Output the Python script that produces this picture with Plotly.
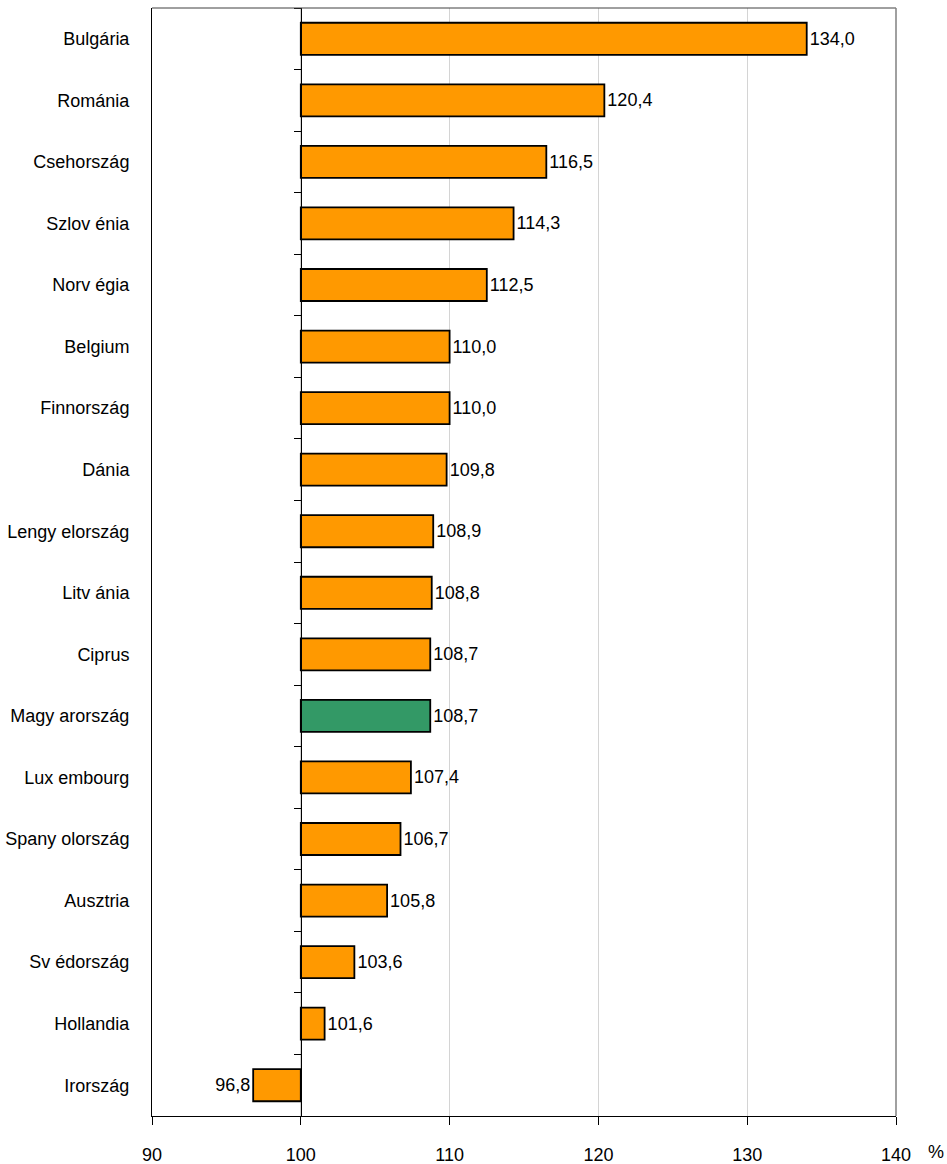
import plotly.graph_objects as go

countries = ["Bulgária", "Románia", "Csehország", "Szlov énia", "Norv égia", "Belgium",
             "Finnország", "Dánia", "Lengy elország", "Litv ánia", "Ciprus", "Magy arország",
             "Lux embourg", "Spany olország", "Ausztria", "Sv édország", "Hollandia", "Irország"]
values = [134.0, 120.4, 116.5, 114.3, 112.5, 110.0, 110.0, 109.8, 108.9, 108.8, 108.7, 108.7,
          107.4, 106.7, 105.8, 103.6, 101.6, 96.8]
highlight = "Magy arország"
base_value = 100
x_ticks = [90, 100, 110, 120, 130, 140]

ORANGE = "#FF9900"
GREEN = "#339966"
FONT = "Liberation Sans, Arial, sans-serif"
FS = 18

colors = [GREEN if c == highlight else ORANGE for c in countries]
labels = [f"{v:.1f}".replace(".", ",") for v in values]
n = len(countries)

fig = go.Figure()
fig.add_trace(go.Bar(
    y=countries,
    x=[v - base_value for v in values],
    base=base_value,
    orientation="h",
    marker=dict(color=colors, line=dict(color="black", width=1.8)),
    width=0.52,
    text=labels,
    textposition="outside",
    textfont=dict(family=FONT, size=FS, color="black"),
    cliponaxis=False,
    hoverinfo="skip",
))
# invisible trace on the secondary category axis (the axis line at 100)
fig.add_trace(go.Scatter(
    y=countries, x=[None] * n, yaxis="y2",
    mode="lines", showlegend=False, hoverinfo="skip",
))

fig.update_layout(
    width=947, height=1164,
    margin=dict(l=152, r=51, t=8, b=48),
    paper_bgcolor="white", plot_bgcolor="white",
    showlegend=False,
    font=dict(family=FONT, size=FS, color="black"),
    xaxis=dict(
        range=[90, 140], tickvals=x_ticks, ticktext=[str(t) for t in x_ticks],
        showgrid=True, gridcolor="#D4D4D4", gridwidth=1,
        zeroline=False, automargin=False,
        showline=True, linecolor="black", linewidth=1,
        ticks="outside", ticklen=8, tickcolor="black",
        ticklabelstandoff=14,
        tickfont=dict(family=FONT, size=FS),
    ),
    yaxis=dict(
        categoryorder="array", categoryarray=countries,
        range=[n - 0.5, -0.5], automargin=False,
        showline=True, linecolor="black", linewidth=1,
        ticks="", showgrid=False, zeroline=False,
        ticklabelstandoff=18,
        tickfont=dict(family=FONT, size=FS),
    ),
    yaxis2=dict(
        overlaying="y", matches="y", anchor="free", position=0.2,
        categoryorder="array", categoryarray=countries, automargin=False,
        showline=True, linecolor="black", linewidth=1,
        ticks="outside", tickson="boundaries", ticklen=7, tickcolor="black",
        showticklabels=False, showgrid=False, zeroline=False,
        side="left",
    ),
    shapes=[
        dict(type="line", xref="paper", yref="paper", x0=0, x1=1, y0=1, y1=1,
             line=dict(color="#404040", width=1)),
        dict(type="line", xref="paper", yref="paper", x0=1, x1=1, y0=0, y1=1,
             line=dict(color="#808080", width=1.5)),
    ],
    annotations=[
        dict(text="%", xref="paper", yref="paper", x=1, y=0, xanchor="left", yanchor="top",
             xshift=30, yshift=-24, showarrow=False, font=dict(family=FONT, size=FS)),
    ],
)

fig.write_html(
    "out.html",
    config={"displayModeBar": False},
    post_script="document.body.style.margin='0';document.body.style.padding='0';",
)
